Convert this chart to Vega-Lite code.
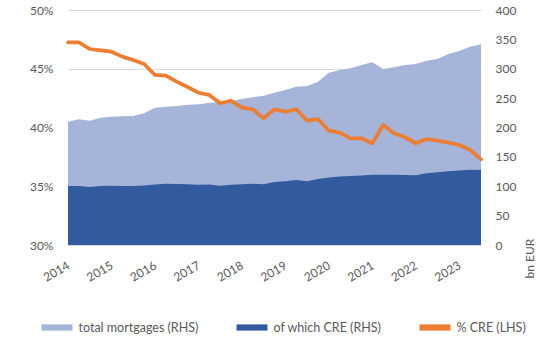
{
  "$schema": "https://vega.github.io/schema/vega-lite/v6.json",
  "width": 413,
  "height": 235,
  "autosize": {"type": "none"},
  "padding": {"left": 68, "top": 10, "right": 69, "bottom": 104},
  "background": "white",
  "config": {
    "view": {"stroke": null},
    "font": "Lato",
    "axis": {
      "labelFont": "Lato", "labelFontSize": 12, "labelColor": "#595959",
      "titleFont": "Lato", "titleFontSize": 12, "titleColor": "#595959", "titleFontWeight": "normal",
      "ticks": false, "domain": false, "grid": false
    },
    "legend": {
      "labelFont": "Lato", "labelFontSize": 12.5, "labelColor": "#595959"
    }
  },
  "data": {
    "values": [
      {"q": "2014Q1", "total": 209.9, "cre": 100.4, "pct": 47.25},
      {"q": "2014Q2", "total": 213.9, "cre": 100.4, "pct": 47.25},
      {"q": "2014Q3", "total": 211.6, "cre": 98.7, "pct": 46.68},
      {"q": "2014Q4", "total": 216.7, "cre": 100.4, "pct": 46.56},
      {"q": "2015Q1", "total": 218.4, "cre": 100.9, "pct": 46.45},
      {"q": "2015Q2", "total": 219.0, "cre": 100.6, "pct": 46.03},
      {"q": "2015Q3", "total": 219.6, "cre": 100.4, "pct": 45.74},
      {"q": "2015Q4", "total": 224.2, "cre": 101.3, "pct": 45.40},
      {"q": "2016Q1", "total": 233.7, "cre": 103.0, "pct": 44.47},
      {"q": "2016Q2", "total": 235.4, "cre": 104.2, "pct": 44.41},
      {"q": "2016Q3", "total": 236.6, "cre": 103.8, "pct": 43.90},
      {"q": "2016Q4", "total": 238.8, "cre": 103.3, "pct": 43.45},
      {"q": "2017Q1", "total": 239.5, "cre": 102.6, "pct": 42.96},
      {"q": "2017Q2", "total": 242.2, "cre": 103.1, "pct": 42.77},
      {"q": "2017Q3", "total": 242.9, "cre": 100.9, "pct": 42.06},
      {"q": "2017Q4", "total": 245.1, "cre": 102.5, "pct": 42.28},
      {"q": "2018Q1", "total": 248.5, "cre": 103.3, "pct": 41.69},
      {"q": "2018Q2", "total": 251.4, "cre": 104.3, "pct": 41.55},
      {"q": "2018Q3", "total": 254.1, "cre": 103.3, "pct": 40.78},
      {"q": "2018Q4", "total": 259.2, "cre": 107.2, "pct": 41.55},
      {"q": "2019Q1", "total": 263.8, "cre": 108.4, "pct": 41.34},
      {"q": "2019Q2", "total": 269.4, "cre": 110.6, "pct": 41.55},
      {"q": "2019Q3", "total": 270.6, "cre": 108.4, "pct": 40.58},
      {"q": "2019Q4", "total": 277.9, "cre": 112.3, "pct": 40.72},
      {"q": "2020Q1", "total": 293.3, "cre": 114.9, "pct": 39.73},
      {"q": "2020Q2", "total": 297.9, "cre": 116.6, "pct": 39.56},
      {"q": "2020Q3", "total": 300.7, "cre": 117.4, "pct": 39.08},
      {"q": "2020Q4", "total": 306.4, "cre": 118.3, "pct": 39.08},
      {"q": "2021Q1", "total": 311.0, "cre": 119.5, "pct": 38.66},
      {"q": "2021Q2", "total": 299.6, "cre": 119.6, "pct": 40.21},
      {"q": "2021Q3", "total": 302.4, "cre": 119.5, "pct": 39.51},
      {"q": "2021Q4", "total": 306.4, "cre": 119.1, "pct": 39.17},
      {"q": "2022Q1", "total": 308.1, "cre": 118.6, "pct": 38.66},
      {"q": "2022Q2", "total": 313.7, "cre": 122.0, "pct": 39.02},
      {"q": "2022Q3", "total": 316.6, "cre": 123.7, "pct": 38.88},
      {"q": "2022Q4", "total": 325.1, "cre": 125.6, "pct": 38.71},
      {"q": "2023Q1", "total": 330.2, "cre": 126.8, "pct": 38.51},
      {"q": "2023Q2", "total": 337.5, "cre": 128.0, "pct": 38.09},
      {"q": "2023Q3", "total": 341.6, "cre": 127.7, "pct": 37.29}
    ]
  },
  "encoding": {
    "x": {
      "field": "q", "type": "ordinal", "sort": null,
      "scale": {"type": "point", "padding": 0},
      "axis": {
        "title": null,
        "values": ["2014Q1", "2015Q1", "2016Q1", "2017Q1", "2018Q1", "2019Q1", "2020Q1", "2021Q1", "2022Q1", "2023Q1"],
        "labelExpr": "substring(datum.value, 0, 4)",
        "labelAngle": -30, "labelAlign": "right", "labelBaseline": "middle",
        "labelPadding": 19, "labelOverlap": false,
        "domain": true, "domainColor": "#D9D9D9"
      }
    }
  },
  "layer": [
    {
      "layer": [
        {
          "mark": {"type": "area", "opacity": 1},
          "encoding": {
            "y": {
              "field": "total", "type": "quantitative",
              "scale": {"domain": [0, 400], "nice": false, "zero": true},
              "axis": {
                "orient": "right", "values": [0, 50, 100, 150, 200, 250, 300, 350, 400],
                "labelPadding": 14, "title": "bn EUR", "titleAngle": -90,
                "titleX": 48, "titleY": 248, "titleAlign": "center", "titleBaseline": "middle"
              }
            },
            "color": {
              "datum": "total mortgages (RHS)",
              "scale": {
                "domain": ["total mortgages (RHS)", "of which CRE (RHS)", "% CRE (LHS)"],
                "range": ["#A6B4DA", "#325A9E", "#ED7D31"]
              },
              "legend": {
                "title": null, "orient": "none", "direction": "horizontal", "columns": 3,
                "legendX": -26.5, "legendY": 302, "columnPadding": 38,
                "symbolType": "M-1,-0.2L1,-0.2L1,0.2L-1,0.2Z",
                "symbolSize": 961, "labelOffset": 6, "symbolStrokeWidth": 0,
                "encode": {
                  "symbols": {
                    "update": {
                      "shape": {"signal": "datum.value === '% CRE (LHS)' ? 'M-1,-0.1L1,-0.1L1,0.1L-1,0.1Z' : 'M-1,-0.2L1,-0.2L1,0.2L-1,0.2Z'"},
                      "fill": {"signal": "scale('color', datum.value)"},
                      "stroke": {"value": "transparent"},
                      "opacity": {"value": 1}
                    }
                  }
                }
              }
            }
          }
        },
        {
          "mark": {"type": "area", "opacity": 1},
          "encoding": {
            "y": {
              "field": "cre", "type": "quantitative",
              "scale": {"domain": [0, 400], "nice": false, "zero": true},
              "axis": {
                "orient": "right", "values": [0, 50, 100, 150, 200, 250, 300, 350, 400],
                "labelPadding": 14, "title": "bn EUR", "titleAngle": -90,
                "titleX": 48, "titleY": 248, "titleAlign": "center", "titleBaseline": "middle"
              }
            },
            "color": {"datum": "of which CRE (RHS)"}
          }
        }
      ]
    },
    {
      "mark": {"type": "line", "strokeWidth": 3.75, "strokeJoin": "round", "strokeCap": "round"},
      "encoding": {
        "y": {
          "field": "pct", "type": "quantitative",
          "scale": {"domain": [30, 50], "nice": false, "zero": false},
          "axis": {
            "orient": "left", "values": [30, 35, 40, 45, 50],
            "labelExpr": "datum.value + '%'", "labelPadding": 15, "title": null,
            "grid": true, "gridColor": "#D9D9D9", "gridWidth": 1
          }
        },
        "color": {"datum": "% CRE (LHS)"}
      }
    }
  ],
  "resolve": {"scale": {"y": "independent"}, "axis": {"y": "independent"}}
}
